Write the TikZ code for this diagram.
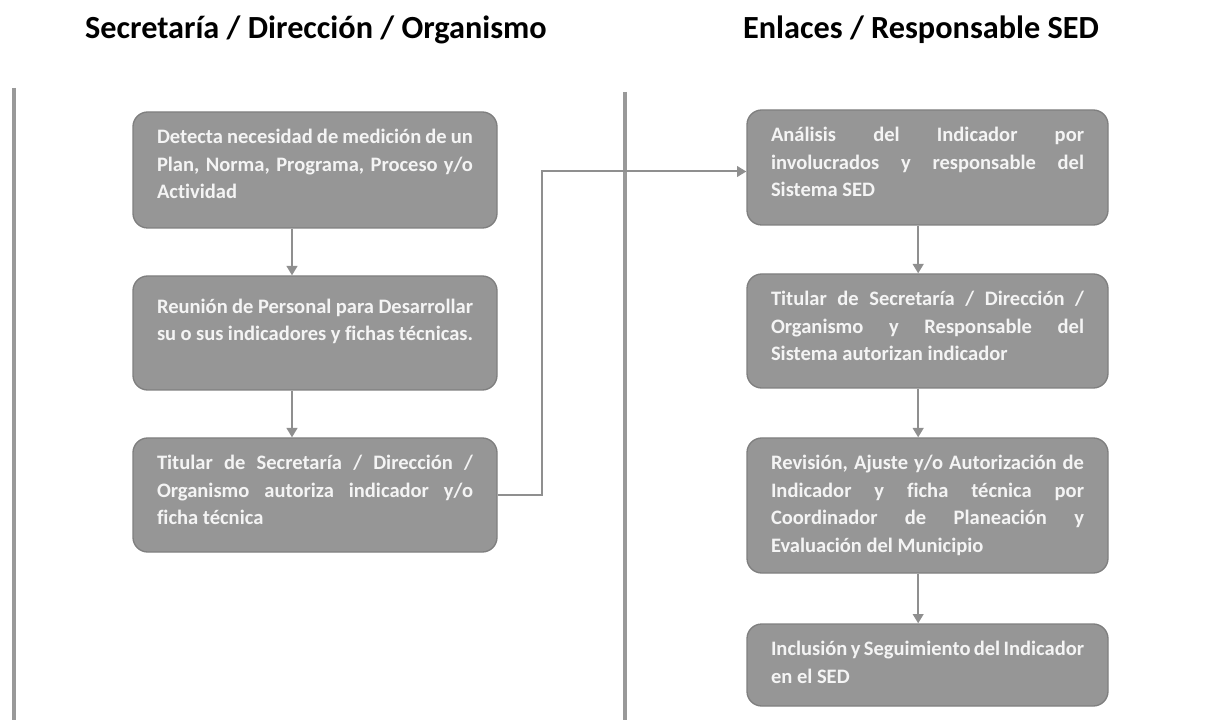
\documentclass[tikz,border=0pt]{standalone}
\usepackage{fontspec}
\setmainfont{Carlito}[Ligatures=NoCommon]
\usetikzlibrary{arrows.meta}

\definecolor{fondo paso}{HTML}{969696}
\definecolor{borde paso}{HTML}{7F7F7F}
\definecolor{texto paso}{HTML}{F4F4F4}
\definecolor{linea flecha}{HTML}{8F8F8F}
\definecolor{linea separador}{HTML}{999999}

\newcommand{\textopaso}[3]{\parbox[c][#1pt][t]{#2pt}{\hyphenpenalty=10000 #3}}

\begin{document}
\begin{tikzpicture}
[x=0.75pt, y=-0.75pt,
 paso/.style={draw=borde paso, fill=fondo paso, rounded corners=11pt, line width=1pt,
   text=texto paso, inner xsep=18pt, inner ysep=13pt,
   font=\fontsize{15.4}{20.6}\selectfont\bfseries},
 flecha/.style={draw=linea flecha, line width=1.5pt, -{Triangle[length=7pt,width=8pt]}},
 separador/.style={draw=linea separador, line width=2.3pt},
 titulo/.style={font=\fontsize{24.2}{29}\selectfont\bfseries}]
\useasboundingbox (0,0) rectangle (1229,720);

% titulos y separadores
\node [titulo] (titulo izq) at (316,30) {Secretaría / Dirección / Organismo};
\node [titulo] (titulo der) at (921,30) {Enlaces / Responsable SED};
\coordinate (sep izq) at (14,88);
\coordinate (sep der) at (625,92);
\draw [separador] (sep izq) -- (sep izq |- 0,720);
\draw [separador] (sep der) -- (sep der |- 0,720);

% pasos de la columna izquierda
\node [paso] (paso 1) at (315,170) {\textopaso{61}{237}{Detecta necesidad de medición de un\linebreak Plan, Norma, Programa, Proceso y/o\linebreak Actividad}};
\node [paso] (paso 2) at (315,333) {\textopaso{59.5}{237}{\vspace*{4pt}Reunión de Personal para Desarrollar\linebreak su o sus indicadores y fichas técnicas.}};
\node [paso] (paso 3) at (315,495) {\textopaso{59.5}{237}{Titular de Secretaría / Dirección /\linebreak Organismo autoriza indicador y/o\linebreak ficha técnica}};

% pasos de la columna derecha
\node [paso] (paso 4) at (927.5,167.5) {\textopaso{60.25}{234.75}{Análisis del Indicador por\linebreak involucrados y responsable del\linebreak Sistema SED}};
\node [paso] (paso 5) at (927.5,331) {\textopaso{59.5}{234.75}{Titular de Secretaría / Dirección /\linebreak Organismo y Responsable del\linebreak Sistema autorizan indicador}};
\node [paso] (paso 6) at (927.5,505.5) {\textopaso{75.25}{234.75}{Revisión, Ajuste y/o Autorización de\linebreak Indicador y ficha técnica por\linebreak Coordinador de Planeación y\linebreak Evaluación del Municipio}};
\node [paso] (paso 7) at (927.5,665) {\textopaso{35.5}{234.75}{Inclusión y Seguimiento del Indicador\linebreak en el SED}};

% flechas
\foreach \a/\b in {1/2, 2/3}{
	\draw [flecha] ([xshift=-17.25pt]paso \a.south) -- ([xshift=-17.25pt]paso \b.north);
}
\foreach \a/\b in {4/5, 5/6, 6/7}{
	\draw [flecha] ([xshift=-7pt]paso \a.south) -- ([xshift=-7pt]paso \b.north);
}
\coordinate (codo) at (542,0);
\draw [flecha] (paso 3.east) -- (paso 3.east -| codo) |- ([yshift=-3pt]paso 4.west);
\end{tikzpicture}
\end{document}
